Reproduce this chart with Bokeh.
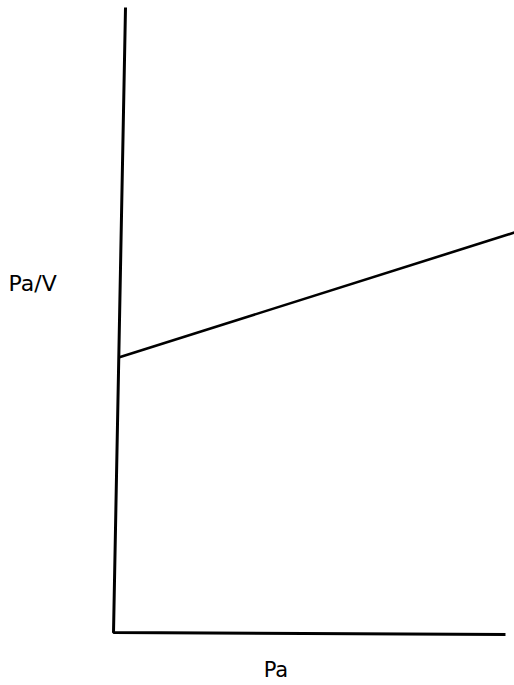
from bokeh.plotting import figure
from bokeh.models import Range1d
from bokeh.core.properties import value
from bokeh.embed import file_html
from bokeh.resources import INLINE

# Axis frame of the sketch (slightly leaning vertical axis, as hand drawn)
axis_x = [0.306, 0.0, 10.0]
axis_y = [10.0, 0.0, -0.03]

# Linear relation Pa/V against Pa
pa = [0.13, 10.23]
pa_over_v = [4.4, 6.4]

# Axis titles
y_title = "Pa/V"
x_title = "Pa"

p = figure(width=514, height=685, output_backend="svg", toolbar_location=None,
           x_range=Range1d(-2.883, 10.23), y_range=Range1d(-0.848, 10.112),
           min_border=0, outline_line_color=None)
p.axis.visible = False
p.grid.visible = False
p.background_fill_color = "white"
p.border_fill_color = "white"

p.line(axis_x, axis_y, line_color="black", line_width=3)
p.line(pa, pa_over_v, line_color="black", line_width=2.6)

p.text(x=[-2.68], y=[5.58], text=[y_title], text_font=value("DejaVu Sans"),
       text_font_size="22px", text_align="left", text_baseline="middle",
       text_color="black")
p.text(x=[3.83], y=[-0.6], text=[x_title], text_font=value("DejaVu Sans"),
       text_font_size="21px", text_align="left", text_baseline="middle",
       text_color="black")

open("out.html", "w").write(file_html(p, INLINE))
